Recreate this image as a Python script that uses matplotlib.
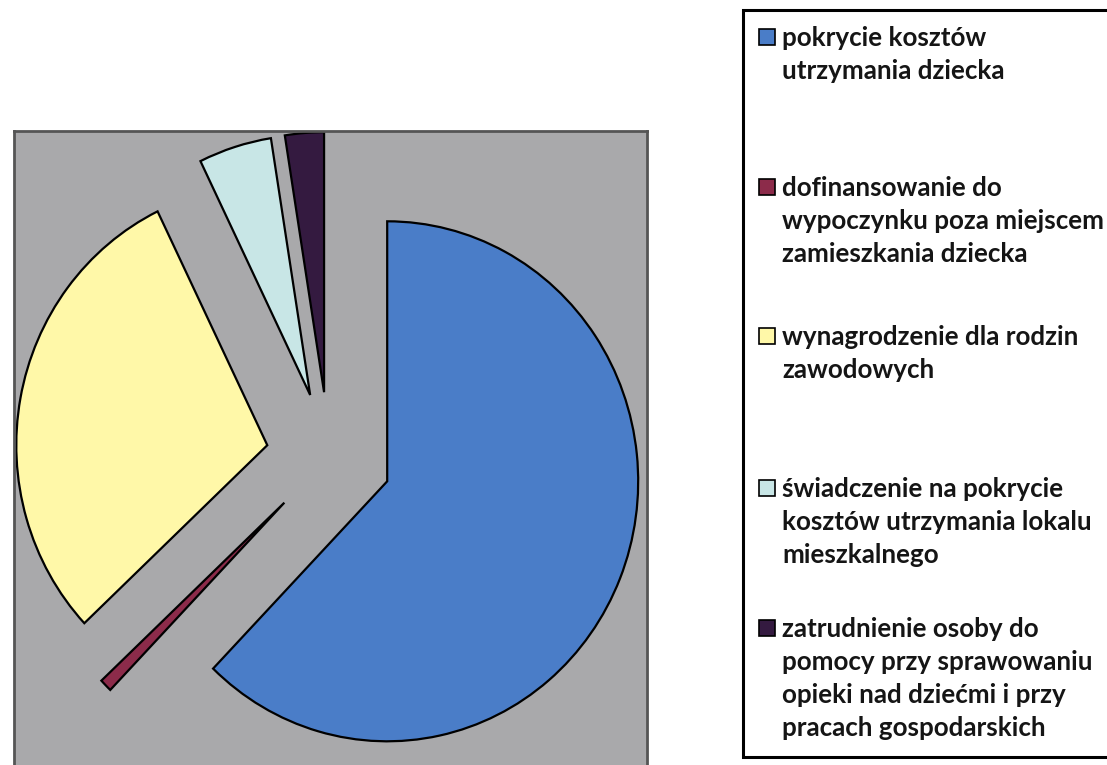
import matplotlib
matplotlib.use("Agg")
import matplotlib.pyplot as plt
from matplotlib.patches import Rectangle
from matplotlib.lines import Line2D

# ---- data ----
categories = [
    "pokrycie kosztów\nutrzymania dziecka",
    "dofinansowanie do\nwypoczynku poza miejscem\nzamieszkania dziecka",
    "wynagrodzenie dla rodzin\nzawodowych",
    "świadczenie na pokrycie\nkosztów utrzymania lokalu\nmieszkalnego",
    "zatrudnienie osoby do\npomocy przy sprawowaniu\nopieki nad dziećmi i przy\npracach gospodarskich",
]
shares = [62.2, 0.8, 29.8, 4.7, 2.5]
colors = ["#4a7dc8", "#8c2b4a", "#fff8a8", "#c8e6e6", "#341a40"]
explode = [0.25, 0.25, 0.25, 0.25, 0.25]

W, H = 1107, 765
fig = plt.figure(figsize=(W / 100, H / 100), dpi=100)
fig.patch.set_facecolor("white")

def fx(x):
    return x / W

def fy(y):
    return 1 - y / H

# plot area in pixels
L, R, T, B = 14, 647, 131, 775
ax = fig.add_axes([fx(L), fy(B), fx(R) - fx(L), fy(T) - fy(B)])
wedges, _ = ax.pie(shares, colors=colors, explode=explode, startangle=90,
                   counterclock=False, radius=1.0,
                   wedgeprops=dict(edgecolor="black", linewidth=1.6))
ax.set_aspect("auto")
cx, cy, rx, ry = 329, 457, 251, 260
ax.set_xlim((L - cx) / rx, (R - cx) / rx)
ax.set_ylim((cy - B) / ry, (cy - T) / ry)
ax.set_facecolor("#a9a9ab")
ax.set_frame_on(True)
for s in ax.spines.values():
    s.set_color("#555555")
    s.set_linewidth(2)
ax.set_xticks([])
ax.set_yticks([])

# ---- legend (box open at the right edge, as in the scan) ----
fig.add_artist(Line2D([fx(1110), fx(743), fx(743), fx(1110)],
                      [fy(10), fy(10), fy(757), fy(757)],
                      transform=fig.transFigure, color="black", linewidth=2.2,
                      solid_joinstyle="miter"))
first_baselines = [46, 196, 345, 497, 637]
line_h = 33
for w, lab, yb in zip(wedges, categories, first_baselines):
    fig.patches.append(Rectangle((fx(759), fy(yb - 1)), fx(16), fy(0) - fy(16),
                                 transform=fig.transFigure, facecolor=w.get_facecolor(),
                                 edgecolor="black", linewidth=1.2, zorder=2))
    for i, line in enumerate(lab.split("\n")):
        fig.text(fx(782), fy(yb + i * line_h), line, fontsize=18.7, fontweight="bold",
                 family="Lato", color="#151515", va="baseline", ha="left", zorder=3)

fig.savefig("out.png", dpi=100)
